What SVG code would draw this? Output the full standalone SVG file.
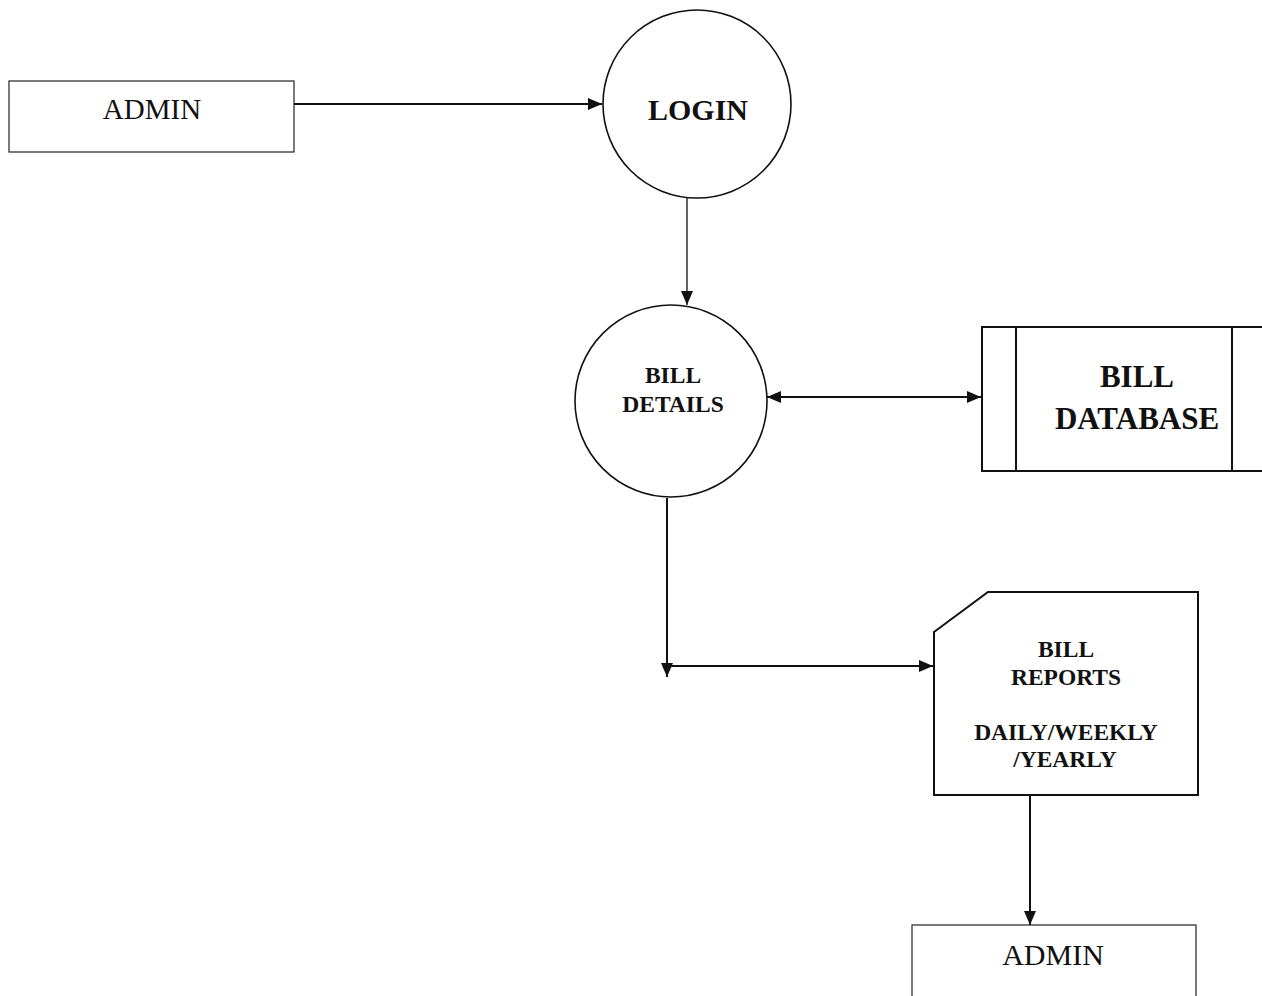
<svg xmlns="http://www.w3.org/2000/svg" width="1262" height="996" viewBox="0 0 1262 996">
  <style>
    .entity { fill: #fff; stroke: #222; stroke-width: 1.2; }
    .process { fill: #fff; stroke: #111; stroke-width: 1.6; }
    .store { fill: #fff; stroke: #111; stroke-width: 2; }
    .flow { fill: none; stroke: #111; stroke-width: 2; }
    .thin { stroke-width: 1.3; }
    .reg { font-family: "Liberation Serif", "Times New Roman", serif; fill: #111; text-anchor: middle; }
    .bold { font-family: "Liberation Serif", "Times New Roman", serif; font-weight: bold; fill: #111; text-anchor: middle; }
  </style>
  <defs>
    <marker id="arrow" viewBox="0 0 14 12" refX="14" refY="6" markerWidth="14" markerHeight="12" markerUnits="userSpaceOnUse" orient="auto-start-reverse">
      <path d="M0,0 L14,6 L0,12 Z" fill="#111"/>
    </marker>
  </defs>
  <rect width="1262" height="996" fill="#fff"/>

  <!-- data flows -->
  <g id="connectors">
    <line class="flow" x1="294" y1="104" x2="602" y2="104" marker-end="url(#arrow)"/>
    <line class="flow thin" x1="687" y1="198" x2="687" y2="305" marker-end="url(#arrow)"/>
    <line class="flow" x1="767" y1="397" x2="981" y2="397" marker-start="url(#arrow)" marker-end="url(#arrow)"/>
    <line class="flow" x1="667" y1="498" x2="667" y2="677" marker-end="url(#arrow)"/>
    <line class="flow" x1="667" y1="666" x2="933" y2="666" marker-end="url(#arrow)"/>
    <line class="flow" x1="1030" y1="795" x2="1030" y2="925" marker-end="url(#arrow)"/>
  </g>

  <!-- external entity: admin (source) -->
  <g id="admin-source">
    <rect class="entity" x="9" y="81" width="285" height="71"/>
    <text class="reg" x="152" y="119" font-size="29">ADMIN</text>
  </g>

  <!-- process: login -->
  <g id="login">
    <circle class="process" cx="697" cy="104" r="94"/>
    <text class="bold" x="698" y="120" font-size="30">LOGIN</text>
  </g>

  <!-- process: bill details -->
  <g id="bill-details">
    <circle class="process" cx="671" cy="401" r="96"/>
    <text class="bold" x="673" y="383" font-size="23.5">BILL</text>
    <text class="bold" x="673" y="412" font-size="23.5">DETAILS</text>
  </g>

  <!-- data store: bill database -->
  <g id="bill-database">
    <rect class="store" x="982" y="327" width="290" height="144"/>
    <line class="store" x1="1016" y1="327" x2="1016" y2="471"/>
    <line class="store" x1="1232" y1="327" x2="1232" y2="471"/>
    <text class="bold" x="1137" y="387" font-size="31">BILL</text>
    <text class="bold" x="1137" y="429" font-size="31">DATABASE</text>
  </g>

  <!-- report document -->
  <g id="bill-reports">
    <path class="store" d="M934,632 L988,592 L1198,592 L1198,795 L934,795 Z"/>
    <text class="bold" x="1066" y="657" font-size="23.5">BILL</text>
    <text class="bold" x="1066" y="685" font-size="23.5">REPORTS</text>
    <text class="bold" x="1066" y="740" font-size="23.5">DAILY/WEEKLY</text>
    <text class="bold" x="1065" y="767" font-size="23.5">/YEARLY</text>
  </g>

  <!-- external entity: admin (sink) -->
  <g id="admin-sink">
    <rect class="entity" x="912" y="925" width="284" height="90"/>
    <text class="reg" x="1053" y="965" font-size="30">ADMIN</text>
  </g>
</svg>
